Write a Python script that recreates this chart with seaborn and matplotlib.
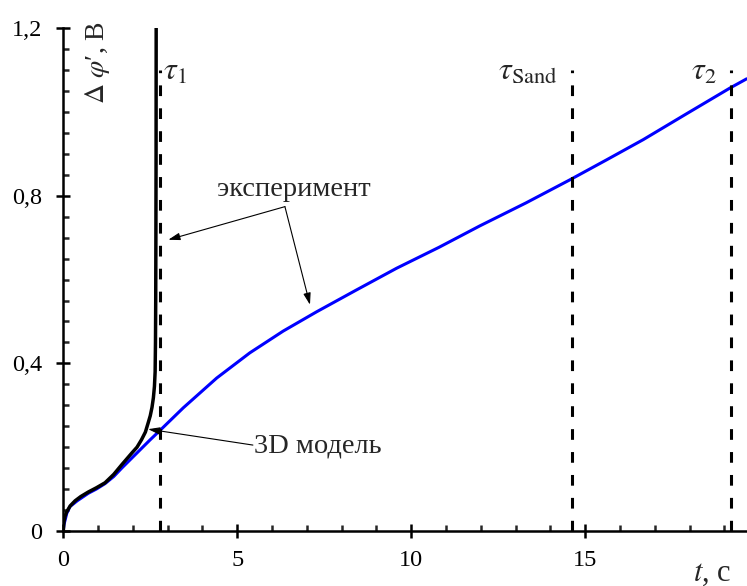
import numpy as np
import pandas as pd
import matplotlib
matplotlib.use("Agg")
import matplotlib.pyplot as plt
from matplotlib.ticker import MultipleLocator
import seaborn as sns

# Potential difference vs time: 3D model and experiment
t_model = [0, 0.02, 0.1, 0.19, 0.4, 0.72, 0.95, 1.2, 1.45, 1.68, 1.97, 2.2, 2.49,
           2.83, 3.45, 4.41, 5.36, 6.32, 7.28, 8.4, 9.58, 10.8, 11.97, 13.3,
           14.56, 15.6, 16.67, 17.9, 19.16, 19.64]
u_model = [0, 0.015, 0.042, 0.058, 0.072, 0.090, 0.100, 0.113, 0.130, 0.150, 0.174,
           0.193, 0.217, 0.244, 0.294, 0.365, 0.425, 0.477, 0.523, 0.574, 0.627,
           0.677, 0.728, 0.783, 0.838, 0.885, 0.934, 0.995, 1.057, 1.079]

t_exp = [0, 0.02, 0.05, 0.10, 0.2, 0.34, 0.5, 0.72, 0.95, 1.2, 1.45, 1.68, 1.97,
         2.12, 2.25, 2.36, 2.44, 2.50, 2.55, 2.59, 2.62, 2.64, 2.65, 2.657, 2.662,
         2.667, 2.67]
u_exp = [0, 0.022, 0.035, 0.046, 0.060, 0.072, 0.082, 0.093, 0.103, 0.115, 0.135,
         0.158, 0.186, 0.200, 0.218, 0.236, 0.258, 0.275, 0.295, 0.318, 0.345,
         0.380, 0.450, 0.550, 0.700, 0.900, 1.200]

# characteristic times
tau_times = [2.78, 14.61, 19.18]
tau_labels = [r"$\tau_1$", r"$\tau_{\rm Sand}$", r"$\tau_2$"]

y_ticks = [0, 0.4, 0.8, 1.2]
y_ticklabels = ["0", "0,4", "0,8", "1,2"]
x_ticks = [0, 5, 10, 15]
x_ticklabels = ["0", "5", "10", "15"]

sns.set_style("ticks")
plt.rcParams["font.family"] = ["Liberation Serif", "DejaVu Serif"]
plt.rcParams["mathtext.fontset"] = "stix"

fig = plt.figure(figsize=(7.47, 5.86), dpi=100)
ax = fig.add_axes([0.0847, 0.0939, 0.9153, 0.8581])

df_model = pd.DataFrame({"t": t_model, "u": u_model})
df_exp = pd.DataFrame({"t": t_exp, "u": u_exp})

sns.lineplot(data=df_model, x="t", y="u", color="#0000ff", lw=2.2, ax=ax,
             sort=False, estimator=None)
sns.lineplot(data=df_exp, x="t", y="u", color="black", lw=2.5, ax=ax,
             sort=False, estimator=None)

ax.vlines(tau_times, 0, 1.1, colors="black", lw=2.2, linestyles=(0, (3.5, 4)))
tau_text_x = [2.87, 12.5, 18.05]
for tx, lab in zip(tau_text_x, tau_labels):
    ax.text(tx, 1.095, lab, fontsize=23, ha="left", va="center")

ax.set_xlim(0, 19.65)
ax.set_ylim(0, 1.2)
ax.set_xticks(x_ticks)
ax.set_xticklabels(x_ticklabels)
ax.set_yticks(y_ticks)
ax.set_yticklabels(y_ticklabels)
ax.xaxis.set_minor_locator(MultipleLocator(1))
ax.yaxis.set_minor_locator(MultipleLocator(0.05))
ax.tick_params(which="major", direction="inout", length=10, width=1.8,
               labelsize=17.5, colors="black")
ax.tick_params(axis="x", which="major", pad=9)
ax.tick_params(axis="y", which="major", pad=10)
ax.tick_params(which="minor", direction="in", length=4, width=1.8)
for s in ["top", "right"]:
    ax.spines[s].set_visible(False)
for s in ["left", "bottom"]:
    ax.spines[s].set_linewidth(1.8)
    ax.spines[s].set_color("black")
ax.set_xlabel("")
ax.set_ylabel("")

arrow = dict(arrowstyle="-|>,head_length=0.7,head_width=0.22", color="black",
             lw=0.8, shrinkA=0, shrinkB=0)
ax.text(6.63, 0.815, "эксперимент", fontsize=20.5, ha="center", va="center")
ax.annotate("", xy=(3.02, 0.695), xytext=(6.37, 0.774), arrowprops=arrow)
ax.annotate("", xy=(7.09, 0.540), xytext=(6.37, 0.774), arrowprops=arrow)
ax.text(7.32, 0.203, "3D модель", fontsize=20.5, ha="center", va="center")
ax.annotate("", xy=(2.44, 0.243), xytext=(5.45, 0.205), arrowprops=arrow)

fig.text(98 / 747, 1 - 62 / 586, r"$\Delta\ \varphi$′, В", fontsize=20,
         rotation=90, ha="center", va="center")
fig.text(712 / 747, 1 - 573 / 586, r"$t$, с", fontsize=22, ha="center",
         va="center")

fig.savefig("out.png", dpi=100)
